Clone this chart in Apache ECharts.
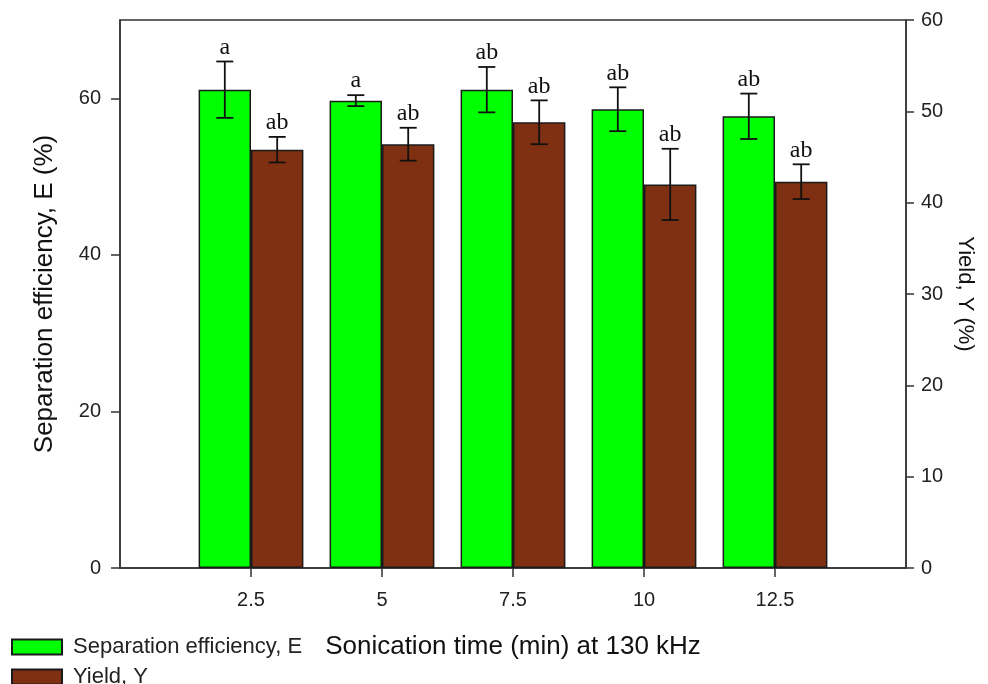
<!DOCTYPE html>
<html>
<head>
<meta charset="utf-8">
<script src="https://cdn.jsdelivr.net/npm/echarts@6/dist/echarts.min.js"></script>
<style>
  html, body { margin: 0; padding: 0; background: #fff; }
  #chart { width: 988px; height: 684px; }
</style>
</head>
<body>
<div id="chart"></div>
<script>
// Sonication times (min) at 130 kHz
const times = [2.5, 5, 7.5, 10, 12.5];
// Separation efficiency E (%), left axis
const efficiency = [61.1, 59.7, 61.1, 58.6, 57.7];
const efficiencyErr = [3.6, 0.7, 2.9, 2.8, 2.9];
const efficiencyGroups = ['a', 'a', 'ab', 'ab', 'ab'];
// Yield Y (%), right axis
const yieldPct = [45.8, 46.4, 48.8, 42.0, 42.3];
const yieldErr = [1.4, 1.8, 2.4, 3.9, 1.9];
const yieldGroups = ['ab', 'ab', 'ab', 'ab', 'ab'];
// Axis ticks
const leftTicks = [0, 20, 40, 60];
const xTicks = [2.5, 5, 7.5, 10, 12.5];

// Each bar spans 40% of the 2.5-min spacing, i.e. 1 min; bars sit side by side.
const halfBar = 0.5;

const sans = '"Liberation Sans", Arial, sans-serif';
const chart = echarts.init(document.getElementById('chart'));

function errorBarSeries(name, values, errs, groups, yAxisIndex, shift) {
  return {
    type: 'custom',
    name: name + ' error',
    yAxisIndex: yAxisIndex,
    z: 10,
    silent: true,
    data: times.map((t, i) => [t + shift, values[i], errs[i], groups[i]]),
    renderItem: function (params, api) {
      const x = api.value(0);
      const v = api.value(1);
      const e = api.value(2);
      const top = api.coord([x, v + e]);
      const bot = api.coord([x, v - e]);
      const cap = 8.5;
      const style = { stroke: '#111', lineWidth: 1.8 };
      return {
        type: 'group',
        children: [
          { type: 'line', shape: { x1: top[0], y1: top[1], x2: bot[0], y2: bot[1] }, style: style },
          { type: 'line', shape: { x1: top[0] - cap, y1: top[1], x2: top[0] + cap, y2: top[1] }, style: style },
          { type: 'line', shape: { x1: bot[0] - cap, y1: bot[1], x2: bot[0] + cap, y2: bot[1] }, style: style },
          {
            type: 'text',
            style: {
              x: top[0], y: top[1] - 2,
              text: api.value(3),
              fill: '#111',
              font: '24px "Liberation Serif", "Times New Roman", serif',
              align: 'center', verticalAlign: 'bottom'
            }
          }
        ]
      };
    }
  };
}

const axisLineStyle = { color: '#333', width: 1.5 };
const tickLabelFont = { color: '#222', fontSize: 20, fontFamily: sans };

chart.setOption({
  animation: false,
  backgroundColor: '#fff',
  grid: {
    left: 120, right: 82, top: 20, bottom: 116,
    show: true, borderColor: '#333', borderWidth: 1.5, backgroundColor: 'transparent'
  },
  legend: {
    orient: 'vertical',
    left: 11, top: 636,
    width: 400, height: 80,
    padding: 0,
    itemWidth: 50, itemHeight: 15, itemGap: 8,
    icon: 'rect',
    textStyle: { color: '#222', fontSize: 22, fontFamily: sans, padding: [0, 0, 0, 6] },
    data: ['Separation efficiency, E', 'Yield, Y']
  },
  xAxis: {
    type: 'value',
    min: 0, max: 15, interval: 2.5,
    name: 'Sonication time (min) at 130 kHz',
    nameLocation: 'middle',
    nameGap: 66,
    nameTextStyle: { color: '#111', fontSize: 26, fontFamily: sans },
    axisLine: { lineStyle: axisLineStyle },
    axisTick: { show: true, length: 9, lineStyle: axisLineStyle, customValues: xTicks },
    axisLabel: Object.assign({ margin: 22, customValues: xTicks }, tickLabelFont),
    splitLine: { show: false }
  },
  yAxis: [
    {
      type: 'value',
      min: 0, max: 70, interval: 20,
      name: 'Separation efficiency, E (%)',
      nameLocation: 'middle',
      nameGap: 62,
      nameTextStyle: { color: '#111', fontSize: 26, fontFamily: sans },
      axisLine: { show: true, lineStyle: axisLineStyle },
      axisTick: { show: true, length: 9, lineStyle: axisLineStyle, customValues: leftTicks },
      axisLabel: Object.assign({ margin: 19, customValues: leftTicks }, tickLabelFont),
      splitLine: { show: false }
    },
    {
      type: 'value',
      min: 0, max: 60, interval: 10,
      position: 'right',
      name: 'Yield, Y (%)',
      nameLocation: 'middle',
      nameRotate: -90,
      nameGap: 48,
      nameTextStyle: { color: '#111', fontSize: 22, fontFamily: sans },
      axisLine: { show: true, lineStyle: axisLineStyle },
      axisTick: { show: true, length: 8, lineStyle: axisLineStyle },
      axisLabel: Object.assign({ margin: 15 }, tickLabelFont),
      splitLine: { show: false }
    }
  ],
  series: [
    {
      type: 'bar',
      name: 'Separation efficiency, E',
      yAxisIndex: 0,
      barWidth: '40%',
      barGap: '0%',
      itemStyle: { color: '#00ff00', borderColor: '#1a1a1a', borderWidth: 1.5 },
      data: times.map((t, i) => [t, efficiency[i]])
    },
    {
      type: 'bar',
      name: 'Yield, Y',
      yAxisIndex: 1,
      barWidth: '40%',
      barGap: '0%',
      itemStyle: { color: '#803012', borderColor: '#1a1a1a', borderWidth: 1.5 },
      data: times.map((t, i) => [t, yieldPct[i]])
    },
    errorBarSeries('Separation efficiency, E', efficiency, efficiencyErr, efficiencyGroups, 0, -halfBar),
    errorBarSeries('Yield, Y', yieldPct, yieldErr, yieldGroups, 1, halfBar)
  ]
});
</script>
</body>
</html>
